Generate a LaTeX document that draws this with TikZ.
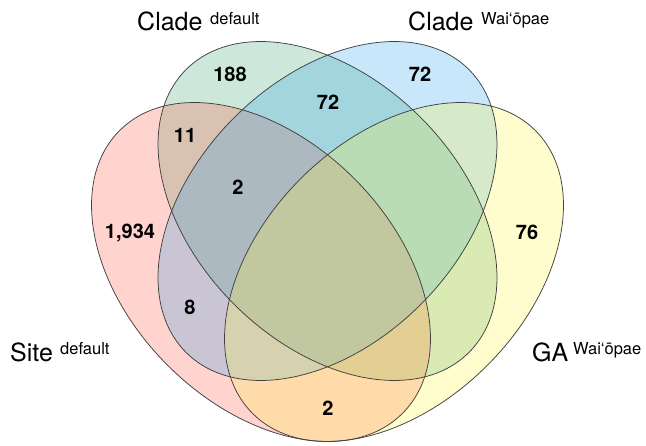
\documentclass[tikz,border=0pt]{standalone}
\usepackage{fontspec}
\setmainfont{TeX Gyre Heros}
\definecolor{siteA}{RGB}{255,79,59}
\definecolor{cladeB}{RGB}{55,163,107}
\definecolor{cladeC}{RGB}{39,159,235}
\definecolor{gaD}{RGB}{255,243,59}
\definecolor{edgegray}{RGB}{64,64,64}
\begin{document}
\begin{tikzpicture}[x=1pt,y=-1pt,
  setfill/.style={fill=#1, fill opacity=0.25},
  outline/.style={draw=edgegray, line width=0.75pt},
  num/.style={font=\bfseries\fontsize{20}{20}\selectfont, inner sep=0pt},
  setname/.style={font=\fontsize{25}{25}\selectfont, anchor=base west, inner sep=0pt},
  setsup/.style={font=\fontsize{16.5}{16.5}\selectfont, anchor=base west, inner sep=0pt}]
\useasboundingbox (0,0) rectangle (646,446);
\coordinate (cA) at (261,272);
\coordinate (cB) at (327.5,211);
\coordinate (cC) at (327.5,211);
\coordinate (cD) at (394,272);
\fill[setfill=cladeB] (cB) ellipse[x radius=200pt, y radius=132pt, rotate=-45];
\fill[setfill=siteA]  (cA) ellipse[x radius=200pt, y radius=132pt, rotate=-45];
\fill[setfill=cladeC] (cC) ellipse[x radius=200pt, y radius=132pt, rotate=45];
\fill[setfill=gaD]    (cD) ellipse[x radius=200pt, y radius=132pt, rotate=45];
\draw[outline] (cA) ellipse[x radius=200pt, y radius=132pt, rotate=-45];
\draw[outline] (cB) ellipse[x radius=200pt, y radius=132pt, rotate=-45];
\draw[outline] (cC) ellipse[x radius=200pt, y radius=132pt, rotate=45];
\draw[outline] (cD) ellipse[x radius=200pt, y radius=132pt, rotate=45];
% counts
\node[num] (nA)    at (130,233) {1,934};
\node[num] (nB)    at (230,74)  {188};
\node[num] (nC)    at (420,74)  {72};
\node[num] (nD)    at (527,232) {76};
\node[num] (nAB)   at (185,135) {11};
\node[num] (nBC)   at (328,102) {72};
\node[num] (nABC)  at (238,187) {2};
\node[num] (nAC)   at (190,307) {8};
\node[num] (nAD)   at (328,408) {2};
% set names
\node[setname] (lB)  at (137,31) {Clade};
\node[setsup]  (lBs) at (210,25) {default};
\node[setname] (lC)  at (408,31) {Clade};
\node[setsup]  (lCs) at (481,25) {Wai‘ōpae};
\node[setname] (lA)  at (10,362) {Site};
\node[setsup]  (lAs) at (60,355) {default};
\node[setname] (lD)  at (532,362) {GA};
\node[setsup]  (lDs) at (573,355) {Wai‘ōpae};
\end{tikzpicture}
\end{document}
